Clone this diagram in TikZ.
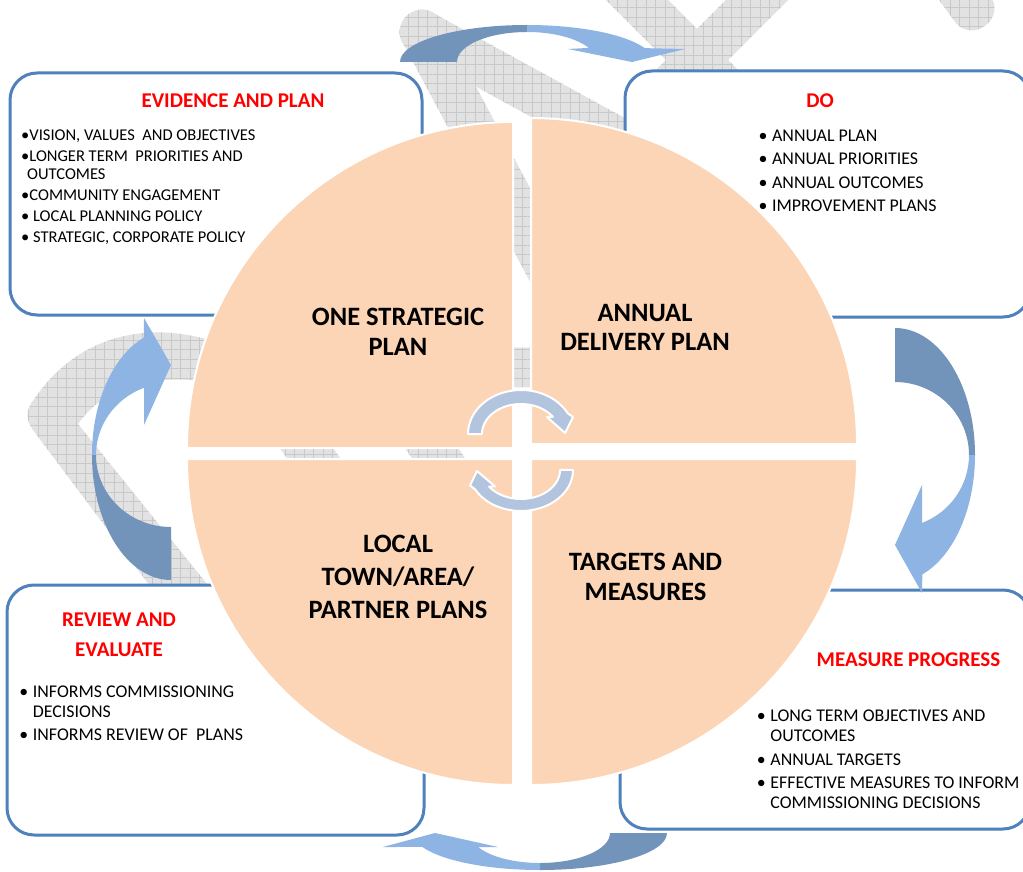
\documentclass[tikz,border=0pt]{standalone}
\usepackage{fontspec}
\setmainfont{Carlito}
\usetikzlibrary{calc,patterns.meta}

\definecolor{boxblue}{RGB}{79,129,189}
\definecolor{peach}{RGB}{251,213,181}
\definecolor{arrdark}{RGB}{114,147,186}
\definecolor{arrlight}{RGB}{141,180,227}
\definecolor{cycblue}{RGB}{179,196,223}
\definecolor{titlered}{RGB}{255,0,0}
\definecolor{wmfill}{RGB}{226,226,226}
\definecolor{wmline}{RGB}{200,200,200}

% band of the watermark, from one point to another
\newcommand{\wmband}[2]{%
  \coordinate (wmS) at ($(#1)!-22pt!(#2)$);
  \coordinate (wmE) at ($(#2)!-22pt!(#1)$);
  \path[wmark, rounded corners=21pt] ($(wmS)!22pt!90:(wmE)$) -- ($(wmE)!22pt!-90:(wmS)$)
    -- ($(wmE)!22pt!90:(wmS)$) -- ($(wmS)!22pt!-90:(wmE)$) -- cycle;}
\newcommand{\bitem}{\makebox[13.5pt][l]{•}}

\begin{document}
\begin{tikzpicture}[x=1pt,y=-1pt]
    \tikzset{wmark/.style={preaction={fill=wmfill}, pattern={Hatch[angle=0,distance=9.5pt,line width=0.7pt]}, pattern color=wmline},
        infobox/.style={draw=boxblue, line width=3pt, fill=white, rounded corners=27pt},
        quarter/.style={fill=peach, draw=white, line width=2pt},
        darkpart/.style={fill=arrdark},
        lightpart/.style={fill=arrlight},
        cycarrow/.style={fill=cycblue, draw=white, line width=2pt, line join=round},
        boxtitle/.style={font=\bfseries\fontsize{21}{29.3}\selectfont, text=titlered, inner sep=0pt, align=center},
        boxlist/.style={font=\fontsize{17.9}{20}\selectfont, inner sep=0pt, align=left, anchor=north west},
        quadtitle/.style={font=\bfseries\fontsize{26.5}{30}\selectfont, inner sep=0pt, align=center, anchor=north}}
    \useasboundingbox (0,0) rectangle (1023,872);
    \clip (0,0) rectangle (1023,872);
    \fill[white] (0,0) rectangle (1023,872);

    %Watermark
    \wmband{422,32}{577,323}
    \wmband{422,32}{641,152}
    \wmband{617,-20}{737,100}
    \wmband{777,-20}{657,100}
    \wmband{930,-50}{972,8}
    \wmband{265,387}{355,519}
    \wmband{400,401}{470,505}
    \path[wmark] (560,347) -- (240,352) .. controls (170,318) and (85,325) .. (35,398)
        .. controls (25,410) and (26,420) .. (33,430) -- (168,610) -- (228,610) -- (78,424)
        .. controls (105,385) and (160,368) .. (240,388) -- (560,387) -- cycle;

    %Boxes
    \draw[infobox] (10,73) rectangle (422,315);
    \draw[infobox] (625,71) rectangle (1030,317);
    \draw[infobox] (7,585) rectangle (424,835);
    \draw[infobox] (620,590) rectangle (1030,829);

    %Outer arrows
    \path[darkpart] (400,62) arc[start angle=180, end angle=90, x radius=127pt, y radius=37pt]
        -- (527,32) arc[start angle=90, end angle=180, x radius=70pt, y radius=30pt] -- cycle;
    \path[lightpart] (527,25) arc[start angle=90, end angle=22, x radius=127pt, y radius=37pt]
        -- (685,49) -- (632,62) -- (568,49)
        -- (588.8,47.9) arc[start angle=28, end angle=90, x radius=70pt, y radius=30pt] -- cycle;

    \path[darkpart] (895,328) arc[start angle=90, end angle=0, x radius=80pt, y radius=127pt]
        -- (969,455) arc[start angle=0, end angle=90, x radius=74pt, y radius=73pt] -- cycle;
    \path[lightpart] (975,455) arc[start angle=0, end angle=-70, x radius=80pt, y radius=127pt]
        -- (922,593) -- (895,545) -- (922,485)
        -- (922,523) arc[start angle=-68.6, end angle=0, x radius=74pt, y radius=73pt] -- cycle;

    \path[darkpart] (667,833) arc[start angle=0, end angle=-90, x radius=127pt, y radius=37pt]
        -- (540,863) arc[start angle=-90, end angle=0, x radius=70pt, y radius=30pt] -- cycle;
    \path[lightpart] (540,870) arc[start angle=-90, end angle=-157.8, x radius=127pt, y radius=37pt]
        -- (383,847) -- (435,833) -- (498,847)
        -- (478.1,847) arc[start angle=-152.2, end angle=-90, x radius=70pt, y radius=30pt] -- cycle;

    \path[darkpart] (171,580) arc[start angle=-90, end angle=-180, x radius=79pt, y radius=125pt]
        -- (96,455) arc[start angle=180, end angle=270, x radius=75pt, y radius=72pt] -- cycle;
    \path[lightpart] (92,455) arc[start angle=180, end angle=110, x radius=79pt, y radius=125pt]
        -- (144,318) -- (171,365) -- (144,425)
        -- (144,387.8) arc[start angle=111.1, end angle=180, x radius=75pt, y radius=72pt] -- cycle;

    %Quarters
    \path[quarter] (513,448) -- (187,448) arc[start angle=180, end angle=90, radius=326pt] -- cycle;
    \path[quarter] (531,444) -- (531,118) arc[start angle=90, end angle=0, radius=326pt] -- cycle;
    \path[quarter] (513,459) -- (187,459) arc[start angle=180, end angle=270, radius=326pt] -- cycle;
    \path[quarter] (531,459) -- (857,459) arc[start angle=0, end angle=-90, radius=326pt] -- cycle;

    %Inner arrows
    \path[cycarrow] (468,434) arc[start angle=180, end angle=28, x radius=53pt, y radius=44pt]
        -- (573,417) -- (565,433) -- (547,417)
        -- (552.9,416.8) arc[start angle=35, end angle=180, x radius=39pt, y radius=30pt] -- cycle;
    \path[cycarrow] (573,470) arc[start angle=0, end angle=-152, x radius=52pt, y radius=41pt]
        -- (470,485.5) -- (477,471) -- (495,486.4)
        -- (489.1,486.6) arc[start angle=-145, end angle=0, x radius=39pt, y radius=29pt] -- cycle;

    %Quarter texts
    \node[quadtitle] (osp) at (398,307.6) {ONE STRATEGIC\\PLAN};
    \node[quadtitle, font=\bfseries\fontsize{26.5}{29}\selectfont] (adp) at (645,304.3) {ANNUAL\\DELIVERY PLAN};
    \node[quadtitle, font=\bfseries\fontsize{26.5}{33}\selectfont] (ltp) at (398,534.6) {LOCAL\\TOWN/AREA/\\PARTNER PLANS};
    \node[quadtitle] (tam) at (645.5,552.6) {TARGETS AND\\MEASURES};

    %Box texts
    \node[boxtitle, anchor=base] (evtitle) at (233,108) {EVIDENCE AND PLAN};
    \node[boxlist, font=\fontsize{16.5}{18.3}\selectfont] (evlist) at (21,129.3)
        {•VISION, VALUES\ \ AND OBJECTIVES\\[2.6pt]
        •LONGER TERM\ \ PRIORITIES AND\\
        \hspace*{6pt}OUTCOMES\\[2.6pt]
        •COMMUNITY ENGAGEMENT\\[2.6pt]
        • LOCAL PLANNING POLICY\\[2.6pt]
        • STRATEGIC, CORPORATE POLICY};

    \node[boxtitle, anchor=base] (dotitle) at (820,108) {DO};
    \node[boxlist] (dolist) at (758.4,130) {\bitem ANNUAL PLAN\\[3.3pt]\bitem ANNUAL PRIORITIES\\[3.3pt]
        \bitem ANNUAL OUTCOMES\\[3.3pt]\bitem IMPROVEMENT PLANS};

    \node[boxtitle, anchor=north] (revtitle) at (119,612.9) {REVIEW AND\\EVALUATE};
    \node[boxlist] (revlist) at (19.2,685.3) {\bitem INFORMS COMMISSIONING\\
        \hspace*{13.5pt}DECISIONS\\[3.3pt]\bitem INFORMS REVIEW OF\ \ PLANS};

    \node[boxtitle, anchor=base] (mptitle) at (908.5,666.7) {MEASURE PROGRESS};
    \node[boxlist] (mplist) at (756.7,710) {\bitem LONG TERM OBJECTIVES AND\\
        \hspace*{13.5pt}OUTCOMES\\[3.3pt]\bitem ANNUAL TARGETS\\[3.3pt]
        \bitem EFFECTIVE MEASURES TO INFORM\\\hspace*{13.5pt}COMMISSIONING DECISIONS};

\end{tikzpicture}
\end{document}
